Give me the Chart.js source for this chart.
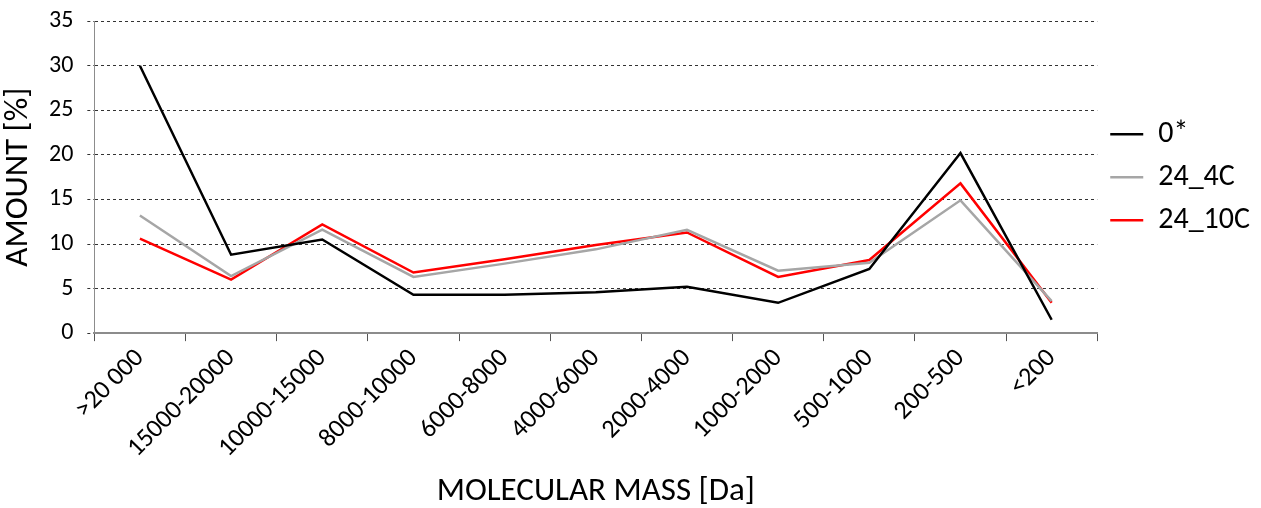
<!DOCTYPE html>
<html>
<head>
<meta charset="utf-8">
<script src="https://cdn.jsdelivr.net/npm/chart.js@4/dist/chart.umd.min.js"></script>
<style>
  html, body { margin: 0; padding: 0; background: #fff; }
  #wrap { width: 1261px; height: 508px; }
</style>
</head>
<body>
<div id="wrap"><canvas id="chart-div"></canvas></div>
<script>
// data
const categories = ['>20 000', '15000-20000', '10000-15000', '8000-10000', '6000-8000', '4000-6000', '2000-4000', '1000-2000', '500-1000', '200-500', '<200'];
const series0 = [30.0, 8.8, 10.5, 4.3, 4.3, 4.6, 5.2, 3.4, 7.2, 20.2, 1.5];
const series4C = [13.2, 6.4, 11.6, 6.3, 7.8, 9.4, 11.6, 7.0, 7.9, 14.9, 3.6];
const series10C = [10.6, 6.0, 12.2, 6.8, 8.3, 9.9, 11.3, 6.3, 8.2, 16.8, 3.4];
const seriesNames = ['0*', '24_4C', '24_10C'];
const yTicks = [0, 5, 10, 15, 20, 25, 30, 35];

const font = "Carlito, Lato, 'Open Sans', sans-serif";
const ctx = document.getElementById('chart-div').getContext('2d');

function line(label, data, color) {
    return {
        label: label,
        data: data,
        borderColor: color,
        backgroundColor: color,
        borderWidth: 2.5,
        pointRadius: 0,
        tension: 0,
        fill: false
    };
}

const chart = new Chart(ctx, {
    type: 'line',
    data: {
        labels: categories,
        datasets: [
            line(seriesNames[0], series0, '#000000'),
            line(seriesNames[1], series4C, '#a6a6a6'),
            line(seriesNames[2], series10C, '#ff0000')
        ]
    },
    options: {
        responsive: true,
        maintainAspectRatio: false,
        animation: false,
        layout: { padding: { left: 0, right: 1, top: 0, bottom: 0 } },
        plugins: {
            tooltip: { enabled: false },
            legend: {
                position: 'right',
                fullSize: false,
                labels: {
                    usePointStyle: true,
                    pointStyle: 'line',
                    pointStyleWidth: 33,
                    boxWidth: 33,
                    padding: 13,
                    color: '#000',
                    font: { family: font, size: 30 }
                }
            }
        },
        scales: {
            x: {
                offset: true,
                grid: {
                    offset: true,
                    drawOnChartArea: false,
                    tickLength: 8,
                    color: '#555'
                },
                border: { color: '#8c8c8c', width: 2 },
                ticks: {
                    minRotation: 45,
                    maxRotation: 45,
                    padding: 2,
                    color: '#000',
                    font: { family: font, size: 26 }
                },
                title: {
                    display: true,
                    text: 'MOLECULAR MASS [Da]',
                    color: '#000',
                    font: { family: font, size: 33, lineHeight: 1 },
                    padding: { top: 9, bottom: 0 }
                }
            },
            y: {
                min: yTicks[0],
                max: yTicks[yTicks.length - 1],
                afterBuildTicks: axis => { axis.ticks = yTicks.map(v => ({ value: v })); },
                grid: {
                    color: '#333',
                    lineWidth: 1,
                    tickBorderDash: [3, 3],
                    tickLength: 7
                },
                border: { color: '#8c8c8c', width: 1, dash: [3, 3] },
                ticks: {
                    padding: 14,
                    color: '#000',
                    font: { family: font, size: 24, lineHeight: 0.6 }
                },
                title: {
                    display: true,
                    text: 'AMOUNT [%]',
                    color: '#000',
                    font: { family: font, size: 33, lineHeight: 1 },
                    padding: { top: 2, bottom: 0 }
                }
            }
        }
    }
});
</script>
</body>
</html>
